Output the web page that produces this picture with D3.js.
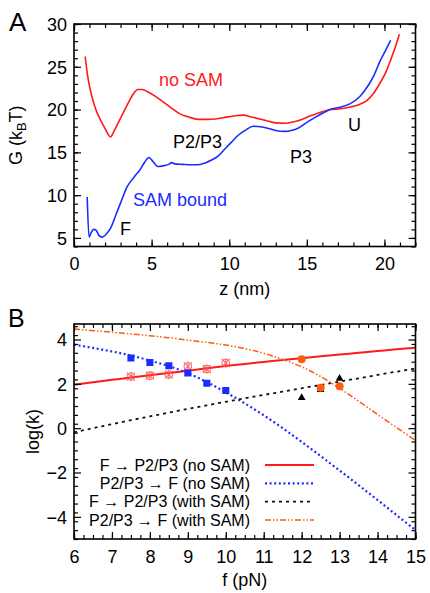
<!DOCTYPE html>
<html><head><meta charset="utf-8">
<script src="https://cdn.jsdelivr.net/npm/d3@7"></script>
<style>
body{margin:0;background:#fff;}
svg{display:block;font-family:"Liberation Sans",Arial,Helvetica,sans-serif;}
</style></head>
<body><svg id="chart" width="430" height="593"></svg>
<script>
// ---------- Panel A data ----------
const zNoSam = [0.72,0.85,1.0,1.2,1.43,1.7,1.97,2.2,2.35,2.5,2.7,2.94,3.25,3.59,3.85,4.12,4.4,4.77,5.2,5.74,6.3,6.82,7.35,8.0,8.6,9.08,9.6,10.3,10.9,11.5,12.3,13.0,13.6,14.1,14.67,15.2,15.65,16.1,16.5,17.2,17.8,18.4,18.9,19.3,19.7,20.1,20.4,20.7,20.96];
const gNoSam = [26.2,24.3,22.7,21.2,19.9,18.8,17.9,17.1,16.8,17.2,17.9,18.8,19.9,21.1,21.9,22.35,22.35,22.05,21.6,20.9,20.15,19.5,19.15,18.85,18.85,18.9,19.05,19.25,19.35,19.1,18.76,18.45,18.4,18.55,18.85,19.25,19.55,19.8,20.0,20.1,20.3,20.6,21.1,21.9,23.05,24.4,25.8,27.3,28.8];
const zSam = [0.85,0.97,1.1,1.25,1.43,1.6,1.8,2.1,2.4,2.72,3.0,3.15,3.4,3.69,3.95,4.23,4.5,4.83,5.1,5.41,5.8,6.1,6.28,6.5,7.0,7.5,8.0,8.5,8.86,9.3,9.72,10.15,10.58,11.05,11.55,12.0,12.52,13.0,13.6,14.0,14.46,15.0,15.65,16.1,16.5,17.2,17.8,18.4,18.9,19.3,19.7,20.1,20.4];
const gSam = [9.8,5.1,5.6,6.0,5.9,5.3,5.1,5.5,6.3,7.8,9.1,9.8,10.9,11.7,12.3,12.9,13.7,14.4,13.9,13.35,13.45,13.6,13.8,13.65,13.6,13.55,13.55,13.8,14.1,14.6,15.4,16.2,17.0,17.6,18.05,18.0,17.8,17.55,17.45,17.55,17.85,18.5,19.2,19.65,20.0,20.3,20.7,21.5,22.66,23.9,25.6,27.0,28.1];
const zTicks = [0,5,10,15,20];
const gTicks = [5,10,15,20,25,30];

// ---------- Panel B data ----------
const fGrid = [6,6.5,7,7.5,8,8.5,9,9.5,10,10.5,11,11.5,12,12.5,13,13.5,14,14.5,15];
const kFtoP_noSam = [1.96,2.07,2.18,2.29,2.39,2.49,2.59,2.7,2.8,2.9,2.99,3.08,3.16,3.24,3.32,3.4,3.48,3.56,3.63];
const kPtoF_noSam = [3.77,3.62,3.46,3.28,3.05,2.8,2.48,2.08,1.62,1.12,0.58,0.0,-0.62,-1.26,-1.91,-2.57,-3.24,-3.92,-4.6];
const kFtoP_sam = [-0.19,0.0,0.18,0.36,0.53,0.7,0.87,1.03,1.19,1.35,1.5,1.65,1.8,1.95,2.1,2.25,2.4,2.55,2.69];
const kPtoF_sam = [4.47,4.4,4.33,4.25,4.17,4.08,3.97,3.87,3.75,3.59,3.38,3.1,2.77,2.33,1.8,1.22,0.62,0.03,-0.55];
const fNoSamPts = [7.5,8,8.5,9,9.5,10];
const kFtoP_noSamPts = [2.33,2.37,2.42,2.79,2.67,2.94];
const kPtoF_noSamPts = [3.17,2.96,2.82,2.49,2.03,1.70];
const fSamPts = [12,12.5,13];
const kFtoP_samPts = [1.37,1.73,2.24];
const kPtoF_samPts = [3.11,1.82,1.89];
const fTicks = [6,7,8,9,10,11,12,13,14,15];
const kTicks = [-4,-2,0,2,4];
const legendLabels = ["F \u2192 P2/P3 (no SAM)","P2/P3 \u2192 F (no SAM)","F \u2192 P2/P3 (with SAM)","P2/P3 \u2192 F (with SAM)"];

const RED="#ff1a1a", BLUE="#1a2cff", BLACK="#111", ORANGE="#ff5a10";
const svg = d3.select("#chart");
svg.append("rect").attr("width",430).attr("height",593).attr("fill","#fff");

function frame(g, x, y, xMaj, xMin, yMaj, yMin, w, h){
  const maj=7, mn=4;
  const ax = (gen, tr, vals, size)=>g.append("g").attr("transform",tr)
      .call(gen.tickValues(vals).tickSize(size).tickFormat("")).call(s=>s.select(".domain").remove())
      .call(s=>s.selectAll("line").attr("stroke","#000").attr("stroke-width",1.2));
  ax(d3.axisBottom(x), `translate(0,${h})`, xMaj, -maj);
  ax(d3.axisBottom(x), `translate(0,${h})`, xMin, -mn);
  ax(d3.axisTop(x), `translate(0,0)`, xMaj, -maj);
  ax(d3.axisTop(x), `translate(0,0)`, xMin, -mn);
  ax(d3.axisLeft(y), `translate(0,0)`, yMaj, -maj);
  ax(d3.axisLeft(y), `translate(0,0)`, yMin, -mn);
  ax(d3.axisRight(y), `translate(${w},0)`, yMaj, -maj);
  ax(d3.axisRight(y), `translate(${w},0)`, yMin, -mn);
  // labels
  const bl = g.append("g").attr("transform",`translate(0,${h})`)
    .call(d3.axisBottom(x).tickValues(xMaj).tickSize(0).tickPadding(0).tickFormat(d3.format("d")));
  bl.select(".domain").remove();
  bl.selectAll("text").attr("y",23.5).attr("dy",0).attr("font-size",18).attr("font-family","Liberation Sans, Arial, sans-serif").attr("fill","#000");
  const ll = g.append("g")
    .call(d3.axisLeft(y).tickValues(yMaj).tickSize(0).tickPadding(0).tickFormat(d3.format("d")));
  ll.select(".domain").remove();
  ll.selectAll("text").attr("x",-7).attr("dy","0.35em").attr("font-size",18).attr("font-family","Liberation Sans, Arial, sans-serif").attr("fill","#000");
  g.append("rect").attr("width",w).attr("height",h).attr("fill","none").attr("stroke","#000").attr("stroke-width",1.6);
}

// ================= Panel A =================
(function(){
  const L=74, T=24, W=341.5, H=222.5;
  const g = svg.append("g").attr("transform",`translate(${L},${T})`);
  const x = d3.scaleLinear().domain([0,22]).range([0,W]);
  const y = d3.scaleLinear().domain([4,30]).range([H,0]);
  const line = d3.line().x(d=>x(d[0])).y(d=>y(d[1])).curve(d3.curveMonotoneX);
  g.append("path").datum(zNoSam.map((z,i)=>[z,gNoSam[i]])).attr("d",line)
    .attr("fill","none").attr("stroke",RED).attr("stroke-width",1.6);
  g.append("path").datum(zSam.map((z,i)=>[z,gSam[i]])).attr("d",line)
    .attr("fill","none").attr("stroke",BLUE).attr("stroke-width",1.6);
  frame(g, x, y, zTicks, d3.range(0,23,1), gTicks, d3.range(4,31,1), W, H);
  const lab=(t,xx,yy,c)=>svg.append("text").attr("x",xx).attr("y",yy).attr("font-size",18).attr("fill",c).text(t);
  lab("no SAM",159,86,RED);
  lab("P2/P3",173,148,"#000");
  lab("P3",290,163,"#000");
  lab("U",348,131,"#000");
  lab("SAM bound",133,206,BLUE);
  lab("F",120,235,"#000");
  svg.append("text").attr("x",L+W/2).attr("y",295).attr("text-anchor","middle").attr("font-size",18).text("z (nm)");
  const yl = svg.append("text").attr("transform",`translate(21.5,${T+H/2}) rotate(-90)`).attr("text-anchor","middle").attr("font-size",18);
  yl.append("tspan").text("G (k");
  yl.append("tspan").attr("font-size",13).attr("dy",4).text("B");
  yl.append("tspan").attr("dy",-4).text("T)");
  svg.append("text").attr("x",9).attr("y",31).attr("font-size",26).text("A");
})();

// ================= Panel B =================
(function(){
  const L=74, T=324, W=341.5, H=215;
  const g = svg.append("g").attr("transform",`translate(${L},${T})`);
  const x = d3.scaleLinear().domain([6,15]).range([0,W]);
  const y = d3.scaleLinear().domain([-5,4.7]).range([H,0]);
  g.append("clipPath").attr("id","clipB").append("rect").attr("width",W).attr("height",H);
  const pl = g.append("g").attr("clip-path","url(#clipB)");
  const line = d3.line().x(d=>x(d[0])).y(d=>y(d[1])).curve(d3.curveMonotoneX);
  const styles = [
    {vals:kFtoP_noSam, color:RED, w:2, dash:null},
    {vals:kPtoF_noSam, color:BLUE, w:2.2, dash:"2,2.6"},
    {vals:kFtoP_sam, color:BLACK, w:1.8, dash:"3,4"},
    {vals:kPtoF_sam, color:ORANGE, w:1.5, dash:"6,2,1.5,2,1.5,2"}
  ];
  styles.forEach(s=>{
    pl.append("path").datum(fGrid.map((f,i)=>[f,s.vals[i]])).attr("d",line)
      .attr("fill","none").attr("stroke",s.color).attr("stroke-width",s.w).attr("stroke-dasharray",s.dash);
  });
  // markers
  const ast = pl.selectAll(".ast").data(fNoSamPts.map((f,i)=>[f,kFtoP_noSamPts[i]])).join("g")
    .attr("transform",d=>`translate(${x(d[0])},${y(d[1])})`).attr("stroke","#ff5050").attr("stroke-width",1.1).attr("fill","none").attr("opacity",0.85);
  ast.append("circle").attr("r",3.8);
  ast.append("path").attr("d","M-4,-4L4,4M-4,4L4,-4M0,-4.5L0,4.5");
  pl.selectAll(".sq").data(fNoSamPts.map((f,i)=>[f,kPtoF_noSamPts[i]])).join("path")
    .attr("transform",d=>`translate(${x(d[0])},${y(d[1])})`)
    .attr("d",d3.symbol(d3.symbolSquare,50)).attr("fill",BLUE);
  pl.selectAll(".tri").data(fSamPts.map((f,i)=>[f,kFtoP_samPts[i]])).join("path")
    .attr("transform",d=>`translate(${x(d[0])},${y(d[1])})`)
    .attr("d",d3.symbol(d3.symbolTriangle,26)).attr("fill","#000");
  pl.selectAll(".circ").data(fSamPts.map((f,i)=>[f,kPtoF_samPts[i]])).join("circle")
    .attr("cx",d=>x(d[0])).attr("cy",d=>y(d[1])).attr("r",4).attr("fill",ORANGE);
  frame(g, x, y, fTicks, d3.range(6,15.01,0.25), kTicks, d3.range(-5,4.71,0.4).map(v=>+v.toFixed(2)), W, H);
  // legend
  legendLabels.forEach((t,i)=>{
    const yy = 465 + i*18.3;
    svg.append("text").attr("x",250).attr("y",yy).attr("dy","0.35em").attr("text-anchor","end").attr("font-size",16).text(t);
    svg.append("line").attr("x1",265).attr("x2",314).attr("y1",yy).attr("y2",yy)
      .attr("stroke",styles[i].color).attr("stroke-width",styles[i].w).attr("stroke-dasharray",styles[i].dash);
  });
  svg.append("text").attr("x",L+W/2).attr("y",586).attr("text-anchor","middle").attr("font-size",18).text("f (pN)");
  svg.append("text").attr("transform",`translate(39,${T+H/2}) rotate(-90)`).attr("text-anchor","middle").attr("font-size",18).text("log(k)");
  svg.append("text").attr("x",8).attr("y",327).attr("font-size",25).text("B");
})();
</script></body></html>
